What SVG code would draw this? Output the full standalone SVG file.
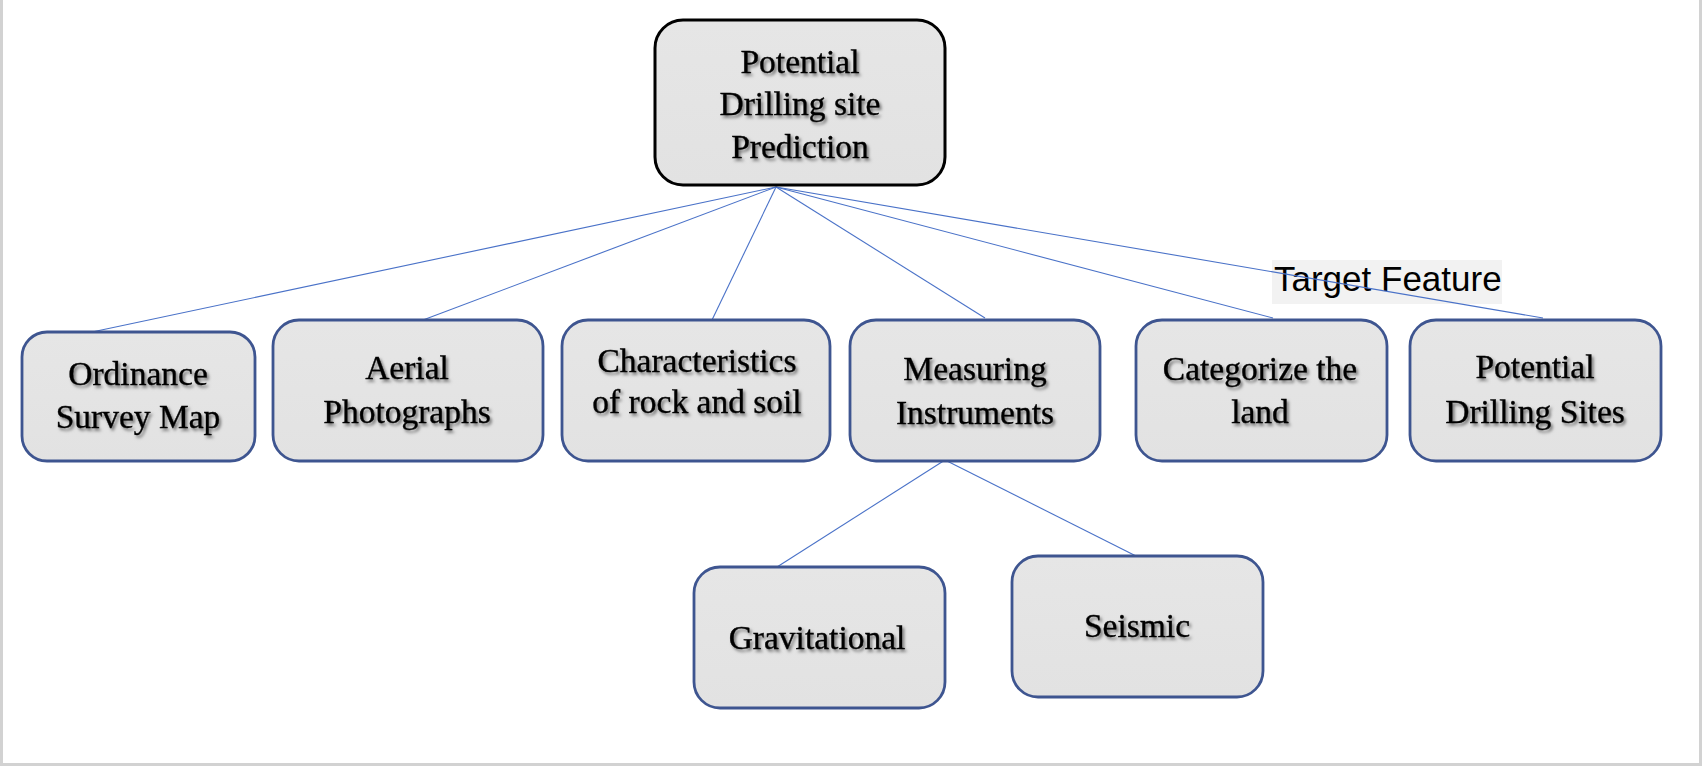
<svg xmlns="http://www.w3.org/2000/svg" width="1702" height="766" viewBox="0 0 1702 766">
  <defs>
    <filter id="ts" x="-10%" y="-30%" width="120%" height="160%">
      <feDropShadow dx="2" dy="2.5" stdDeviation="1.6" flood-color="#000" flood-opacity="0.5"/>
    </filter>
    <linearGradient id="bg" x1="0" y1="0" x2="0" y2="1">
      <stop offset="0" stop-color="#e6e6e6"/>
      <stop offset="1" stop-color="#e2e2e2"/>
    </linearGradient>
  </defs>
  <style>
    .box { fill: url(#bg); stroke: #3e5590; stroke-width: 2.8; }
    .top { fill: url(#bg); stroke: #000; stroke-width: 3; }
    .t { font-family: "Liberation Serif", "Times New Roman", serif; font-size: 33.5px; fill: #000; stroke: #000; stroke-width: 0.35; text-anchor: middle; filter: url(#ts); }
    .c { stroke: #4a72c8; stroke-width: 1.1; fill: none; }
    .lbl { font-family: "Liberation Sans", Arial, sans-serif; font-size: 35px; fill: #000; }
    .pg { fill: #d2d2d2; }
  </style>
  <rect x="0" y="0" width="1702" height="766" fill="#fff"/>
  <rect class="pg" x="0" y="0" width="3" height="766"/>
  <rect class="pg" x="1699" y="0" width="3" height="766"/>
  <rect class="pg" x="0" y="763" width="1702" height="3"/>

  <g id="target-label">
    <rect x="1272" y="260" width="230" height="44" fill="#f2f2f2"/>
    <text class="lbl" x="1274" y="291">Target Feature</text>
  </g>

  <g id="connectors">
    <line class="c" x1="776" y1="187" x2="92" y2="332"/>
    <line class="c" x1="776" y1="187" x2="423" y2="320"/>
    <line class="c" x1="776" y1="187" x2="712" y2="320"/>
    <line class="c" x1="776" y1="187" x2="985" y2="318"/>
    <line class="c" x1="776" y1="187" x2="1273" y2="318"/>
    <line class="c" x1="776" y1="187" x2="1543" y2="318"/>
    <line class="c" x1="945" y1="460" x2="777" y2="567"/>
    <line class="c" x1="945" y1="460" x2="1136" y2="556"/>
  </g>

  <g id="root">
    <rect class="top" x="655" y="20" width="290" height="165" rx="28"/>
    <text class="t" x="800" y="73">Potential</text>
    <text class="t" x="800" y="115">Drilling site</text>
    <text class="t" x="800" y="158">Prediction</text>
  </g>

  <g id="ordinance">
    <rect class="box" x="22" y="332" width="233" height="129" rx="25"/>
    <text class="t" x="138" y="385">Ordinance</text>
    <text class="t" x="138" y="428">Survey Map</text>
  </g>

  <g id="aerial">
    <rect class="box" x="273" y="320" width="270" height="141" rx="26"/>
    <text class="t" x="407" y="379">Aerial</text>
    <text class="t" x="407" y="423">Photographs</text>
  </g>

  <g id="characteristics">
    <rect class="box" x="562" y="320" width="268" height="141" rx="26"/>
    <text class="t" x="697" y="372">Characteristics</text>
    <text class="t" x="697" y="413">of rock and soil</text>
  </g>

  <g id="measuring">
    <rect class="box" x="850" y="320" width="250" height="141" rx="26"/>
    <text class="t" x="975" y="380">Measuring</text>
    <text class="t" x="975" y="424">Instruments</text>
  </g>

  <g id="categorize">
    <rect class="box" x="1136" y="320" width="251" height="141" rx="26"/>
    <text class="t" x="1260" y="380">Categorize the</text>
    <text class="t" x="1260" y="423">land</text>
  </g>

  <g id="potential-sites">
    <rect class="box" x="1410" y="320" width="251" height="141" rx="26"/>
    <text class="t" x="1535" y="378">Potential</text>
    <text class="t" x="1535" y="423">Drilling Sites</text>
  </g>

  <g id="gravitational">
    <rect class="box" x="694" y="567" width="251" height="141" rx="26"/>
    <text class="t" x="817" y="649">Gravitational</text>
  </g>

  <g id="seismic">
    <rect class="box" x="1012" y="556" width="251" height="141" rx="26"/>
    <text class="t" x="1137" y="637">Seismic</text>
  </g>
</svg>
